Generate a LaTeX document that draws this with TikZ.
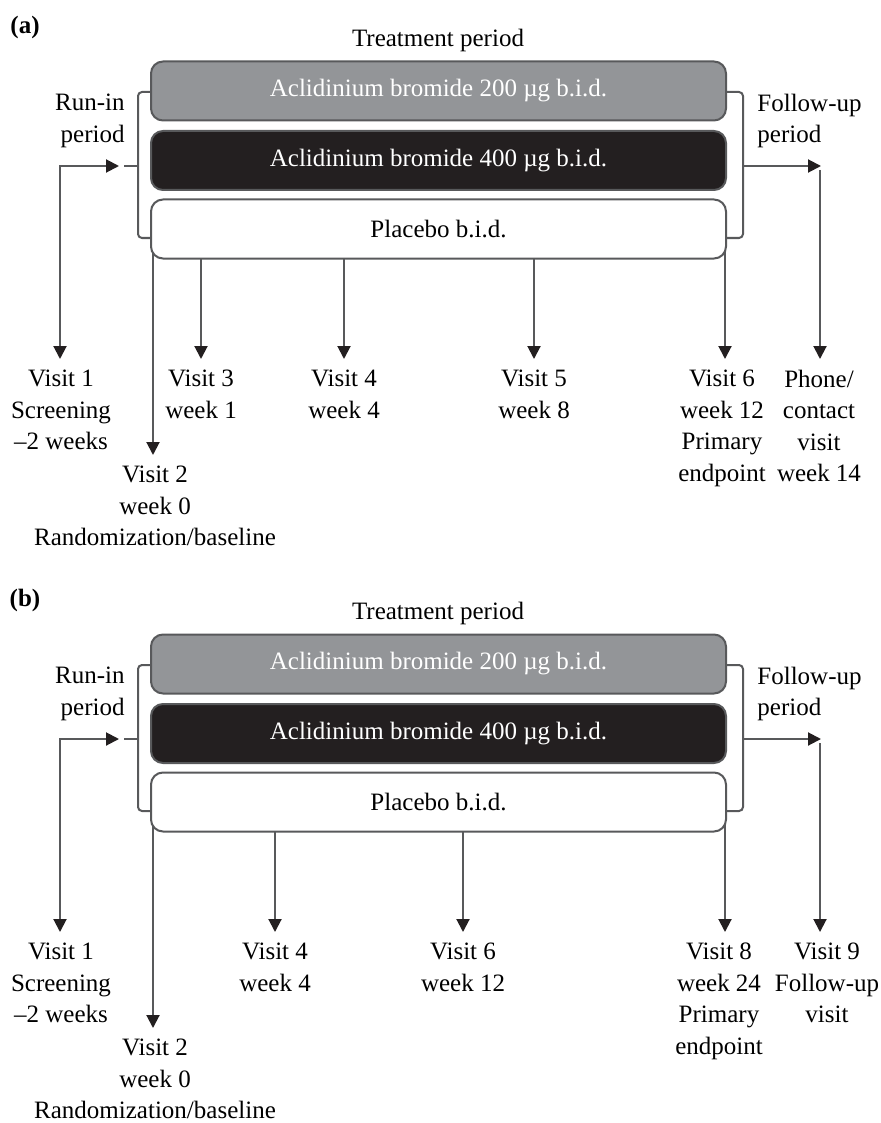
\documentclass[tikz,border=0pt]{standalone}
\usepackage{fontspec}
\setmainfont{Liberation Serif}
\usepackage{tikz}
\usetikzlibrary{arrows.meta,calc}
\definecolor{ink}{HTML}{231F20}
\definecolor{wire}{HTML}{58595B}
\definecolor{armgray}{HTML}{939598}

\begin{document}
\begin{tikzpicture}[x=0.5pt, y=-0.5pt, font=\fontsize{12.5}{15.75}\selectfont, >={Triangle[length=6.5pt, width=6.5pt, color=ink]},
    arm/.style={draw=wire, line width=1pt, rounded corners=6pt, minimum width=287.5pt, minimum height=29.5pt, inner sep=0pt},
    conn/.style={wire, line width=1pt},
    brk/.style={wire, line width=1pt, rounded corners=2pt},
    visit/.style={anchor=north, align=center, inner sep=0pt, outer ysep=5.5pt}]
    \useasboundingbox (0,0) rectangle (880,1123);
    % visits inside the treatment period, one list per panel
    \foreach \x/\dx/\n/\txt in {201/0/3/{Visit 3\\week 1}, 344/0/4/{Visit 4\\week 4}, 534/0/5/{Visit 5\\week 8}, 725/-3/6/{Visit 6\\week 12\\Primary\\endpoint}} {
      \coordinate (a-s\n) at (\x,229);
      \node[visit] (a-v\n) at ({\x+\dx},359) {\txt};
      \draw[conn, ->] (a-s\n) -- (a-s\n |- a-v\n.north);
    }
    \begin{scope}[shift={(0,573)}]
      \foreach \x/\dx/\n/\txt in {275/0/4/{Visit 4\\week 4}, 463/0/6/{Visit 6\\week 12}, 725/-6/8/{Visit 8\\week 24\\Primary\\endpoint}} {
        \coordinate (b-s\n) at (\x,229);
        \node[visit] (b-v\n) at ({\x+\dx},359) {\txt};
        \draw[conn, ->] (b-s\n) -- (b-s\n |- b-v\n.north);
      }
    \end{scope}
    \foreach \p/\dy/\fx/\ftxt in {a/0/819/{Phone/\\contact\\visit\\week 14}, b/573/827/{Visit 9\\Follow-up\\visit}} {
      \begin{scope}[shift={(0,\dy)}]
        \node (\p-tag) at (25,27) {\textbf{(\p)}};
        \node (\p-head) at (438,40) {Treatment period};
        \node[anchor=east, align=right, inner sep=0pt] (\p-run) at (125,121) {Run-in\\period};
        \node[anchor=west, align=left, inner sep=0pt] (\p-fol) at (757,121) {Follow-up\\period};
        \coordinate (\p-rc) at (60,166);
        \coordinate (\p-rt) at (119,166);
        \coordinate (\p-fs) at (743,166);
        \coordinate (\p-ft) at (821,166);
        \coordinate (\p-fd) at (820,170);
        \coordinate (\p-s2) at (153,229);
        \node[visit] (\p-v1) at (61,359) {Visit 1\\Screening\\{\textendash}2 weeks};
        \node[visit] (\p-v2) at (155,455) {Visit 2\\week 0\\Randomization/baseline};
        \node[visit] (\p-vf) at (\fx,359) {\ftxt};
        \draw[conn, <->] (\p-rt) -- (\p-rc) -- (\p-rc |- \p-v1.north);
        \draw[conn, ->] (\p-s2) -- (\p-s2 |- \p-v2.north);
        \draw[conn, ->] (\p-fs) -- (\p-ft);
        \draw[conn, ->] (\p-fd) -- (\p-fd |- \p-vf.north);
        % the three arms, drawn last so that they cover the arrow starts
        \node[arm, fill=armgray, text=white] (\p-g) at (438.5,91) {Aclidinium bromide 200 µg b.i.d.};
        \node[arm, fill=ink, text=white] (\p-k) at (438.5,160.5) {Aclidinium bromide 400 µg b.i.d.};
        \node[arm, fill=white] (\p-w) at (438.5,229) {Placebo b.i.d.};
        \draw[brk] (151,92) -- (138,92) -- (138,238) -- (151,238);
        \draw[brk] (138,166) -- (124,166);
        \draw[brk] (726,92) -- (743,92) -- (743,238) -- (726,238);
      \end{scope}
    }
\end{tikzpicture}
\end{document}
